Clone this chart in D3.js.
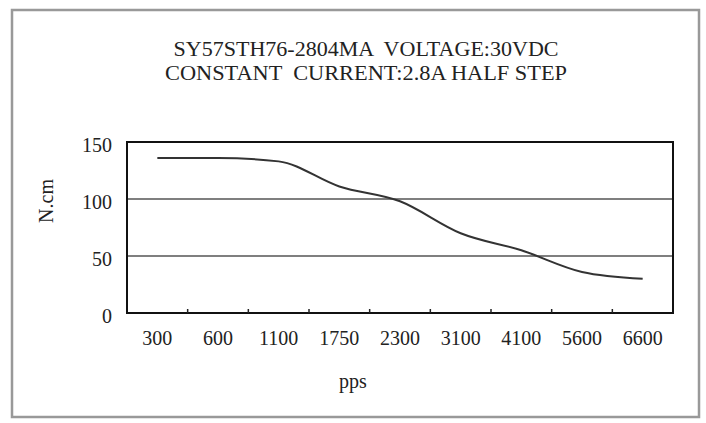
<!DOCTYPE html>
<html><head><meta charset="utf-8">
<script src="https://cdn.jsdelivr.net/npm/d3@7"></script>
<style>html,body{margin:0;padding:0;background:#fff;}svg{display:block;}</style>
</head><body>
<svg id="c" width="706" height="423"></svg>
<script>
const categories = ["300","600","1100","1750","2300","3100","4100","5600","6600"];
const torque = [136, 136, 133, 111, 98, 70, 55, 36, 30];
const yTicks = [0, 50, 100, 150];
const titleLines = ["SY57STH76-2804MA  VOLTAGE:30VDC", "CONSTANT  CURRENT:2.8A HALF STEP"];

const svg = d3.select("#c");
const font = "'Liberation Serif', 'DejaVu Serif', serif";
const m = {left:127, right:673, top:142, bottom:313};

// outer frame
svg.append("rect").attr("x",12).attr("y",10).attr("width",687).attr("height",407)
  .attr("fill","#fff").attr("stroke","#999").attr("stroke-width",2.5);

const x = d3.scaleBand().domain(categories).range([m.left, m.right]).padding(0);
const y = d3.scaleLinear().domain([0,150]).range([m.bottom, m.top]);

// gridlines
svg.append("g").selectAll("line").data(yTicks.filter(d=>d>0 && d<150)).join("line")
  .attr("x1",m.left).attr("x2",m.right).attr("y1",d=>y(d)).attr("y2",d=>y(d))
  .attr("stroke","#555").attr("stroke-width",1.5);

// plot border
svg.append("rect").attr("x",m.left).attr("y",m.top).attr("width",m.right-m.left).attr("height",m.bottom-m.top)
  .attr("fill","none").attr("stroke","#111").attr("stroke-width",2);

// x axis
const xAxis = d3.axisBottom(x).tickSize(0).tickPadding(18);
const gx = svg.append("g").attr("transform",`translate(0,${m.bottom})`).call(xAxis);
gx.select(".domain").remove();
gx.selectAll("text").attr("font-family",font).attr("font-size",20).attr("fill","#222");
// boundary ticks
svg.append("g").selectAll("line").data(categories.slice(1)).join("line")
  .attr("x1",d=>x(d)).attr("x2",d=>x(d)).attr("y1",m.bottom).attr("y2",m.bottom-4)
  .attr("stroke","#222").attr("stroke-width",1.5);

// y axis
const yAxis = d3.axisLeft(y).tickValues(yTicks).tickSize(0).tickPadding(15);
const gy = svg.append("g").attr("transform",`translate(${m.left},0)`).call(yAxis);
gy.select(".domain").remove();
gy.selectAll("text").attr("font-family",font).attr("font-size",20).attr("fill","#222").attr("dy","0.45em");

// line
const line = d3.line().x((d,i)=>x(categories[i])+x.bandwidth()/2).y(d=>y(d)).curve(d3.curveMonotoneX);
svg.append("path").datum(torque).attr("d",line).attr("fill","none")
  .attr("stroke","#333").attr("stroke-width",2);

// titles
svg.append("g").selectAll("text").data(titleLines).join("text")
  .attr("x",366).attr("y",(d,i)=>56+i*24).attr("text-anchor","middle")
  .attr("font-family",font).attr("font-size",20).attr("fill","#222")
  .attr("textLength",(d,i)=>i===0?385:402).attr("lengthAdjust","spacingAndGlyphs")
  .attr("xml:space","preserve").text(d=>d);

svg.append("text").attr("transform","translate(53,201) rotate(-90)").attr("text-anchor","middle")
  .attr("font-family",font).attr("font-size",20).attr("fill","#222").text("N.cm");
svg.append("text").attr("x",353).attr("y",388).attr("text-anchor","middle")
  .attr("font-family",font).attr("font-size",20).attr("fill","#222").text("pps");
</script>
</body></html>
